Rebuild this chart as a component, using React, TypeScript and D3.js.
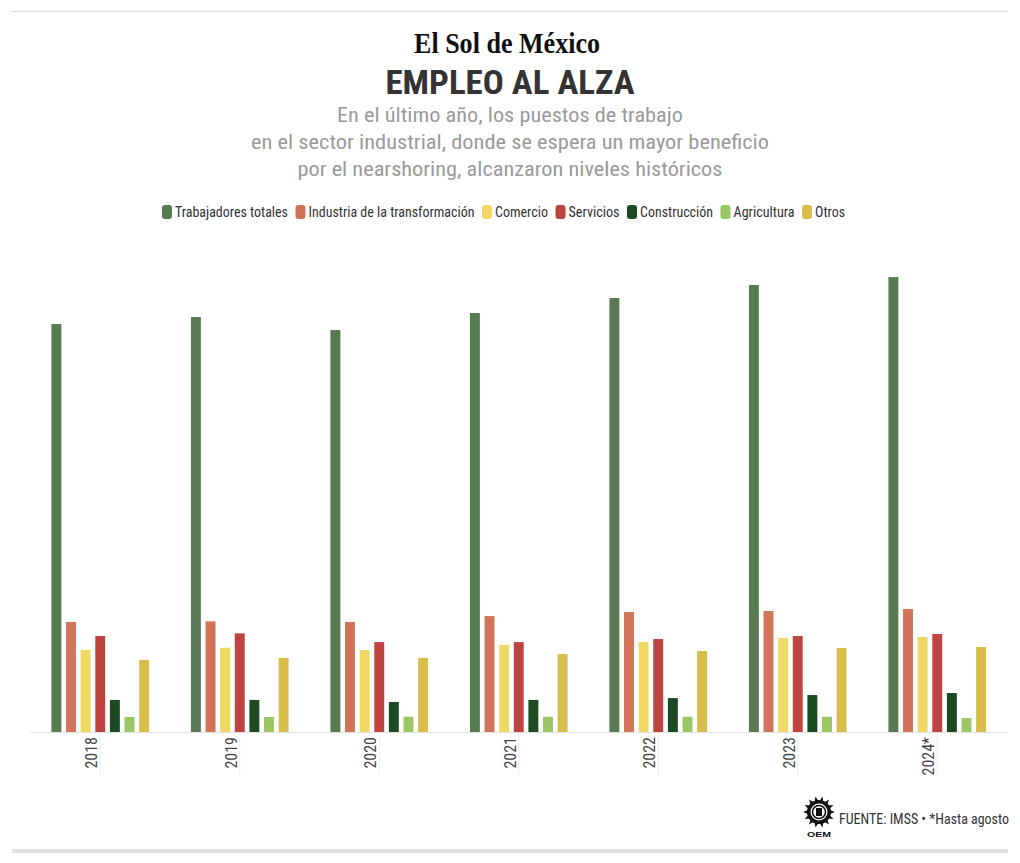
import React from "react";
import * as d3 from "d3";

const years = ["2018", "2019", "2020", "2021", "2022", "2023", "2024*"];
const seriesNames = [
  "Trabajadores totales",
  "Industria de la transformación",
  "Comercio",
  "Servicios",
  "Construcción",
  "Agricultura",
  "Otros",
];
const seriesColors = ["#587a53", "#d27459", "#f1d864", "#be4441", "#1c4a23", "#9cc564", "#d9bd4a"];

// millions of workers (approx.)
const totales = [20.1, 20.44, 19.8, 20.64, 21.38, 22.02, 22.41];
const industria = [5.42, 5.45, 5.42, 5.71, 5.91, 5.96, 6.06];
const comercio = [4.04, 4.15, 4.04, 4.29, 4.43, 4.63, 4.68];
const servicios = [4.73, 4.86, 4.43, 4.43, 4.58, 4.73, 4.83];
const construccion = [1.58, 1.58, 1.48, 1.58, 1.67, 1.82, 1.92];
const agricultura = [0.74, 0.74, 0.75, 0.75, 0.75, 0.75, 0.69];
const otros = [3.55, 3.65, 3.65, 3.84, 3.99, 4.14, 4.19];

const seriesValues = [totales, industria, comercio, servicios, construccion, agricultura, otros];

const subtitleLines = [
  "En el último año, los puestos de trabajo",
  "en el sector industrial, donde se espera un mayor beneficio",
  "por el nearshoring, alcanzaron niveles históricos",
];
const subtitleWidths = [346, 518, 425];
const legendWidths = [113, 166, 53, 51, 73, 61, 30];

const W = 1020;
const H = 863;
const baseY = 732;
const FONT = "'Roboto Condensed', Roboto, sans-serif";

function OemLogo({ x, y }: { x: number; y: number }) {
  const spikes = d3.range(14).map((i) => {
    const a = (i / 14) * Math.PI * 2;
    const a1 = a - 0.18;
    const a2 = a + 0.18;
    const r1 = 11;
    const r2 = 16;
    return `M${x + r1 * Math.cos(a1)},${y + r1 * Math.sin(a1)}L${x + r2 * Math.cos(a)},${y + r2 * Math.sin(a)}L${x + r1 * Math.cos(a2)},${y + r1 * Math.sin(a2)}Z`;
  });
  return (
    <g>
      {spikes.map((d, i) => (
        <path key={i} d={d} fill="#111" />
      ))}
      <circle cx={x} cy={y} r={12} fill="#111" />
      <circle cx={x} cy={y} r={8.5} fill="#fff" />
      <circle cx={x} cy={y} r={6.5} fill="none" stroke="#111" strokeWidth={1.5} />
      <rect x={x - 3} y={y - 4} width={6} height={8} fill="#111" />
      <text x={x} y={y + 25} textAnchor="middle" fontFamily="Arial, sans-serif" fontWeight="bold" fontSize={8} fill="#111" textLength={24} lengthAdjust="spacingAndGlyphs">
        OEM
      </text>
    </g>
  );
}

export default function App() {
  const x0 = d3.scaleBand<string>().domain(years).range([30.5, 1007]).paddingInner(0.3).paddingOuter(0.15);
  const x1 = d3
    .scaleBand<string>()
    .domain(seriesNames)
    .range([0, x0.bandwidth()])
    .paddingInner(0.32)
    .paddingOuter(0);
  const y = d3.scaleLinear().domain([0, 22.5]).range([baseY, baseY - 22.5 * 20.3]);

  // legend layout
  let lx = 162;
  const legendItems = seriesNames.map((name, i) => {
    const item = { name, color: seriesColors[i], x: lx, w: legendWidths[i] };
    lx += 13 + legendWidths[i] + 7.5;
    return item;
  });

  return (
    <div style={{ position: "absolute", left: 0, top: 0, width: W, height: H, background: "#fff" }}>
      <svg width={W} height={H} style={{ display: "block" }}>
        <rect x={0} y={0} width={W} height={H} fill="#fff" />
        <line x1={12} x2={1008} y1={11.5} y2={11.5} stroke="#dcdcdc" strokeWidth={1} />

        <text x={507} y={53} textAnchor="middle" fontFamily="'Liberation Serif', serif" fontWeight="bold" fontSize={30} fill="#111" textLength={186} lengthAdjust="spacingAndGlyphs">
          El Sol de México
        </text>

        <text x={510} y={94} textAnchor="middle" fontFamily={FONT} fontWeight="bold" fontSize={34} fill="#333" textLength={249} lengthAdjust="spacingAndGlyphs">
          EMPLEO AL ALZA
        </text>

        {subtitleLines.map((t, i) => (
          <text key={i} x={510} y={122 + i * 27} textAnchor="middle" fontFamily={FONT} fontSize={20} fill="#9a9a9a" textLength={subtitleWidths[i]} lengthAdjust="spacingAndGlyphs">
            {t}
          </text>
        ))}

        {legendItems.map((it) => (
          <g key={it.name}>
            <rect x={it.x} y={205} width={10} height={14} rx={3} fill={it.color} />
            <text x={it.x + 13} y={217} fontFamily={FONT} fontSize={14} fill="#333" textLength={it.w} lengthAdjust="spacingAndGlyphs">
              {it.name}
            </text>
          </g>
        ))}

        {/* tick lines */}
        {years.map((yr) => {
          const cx = (x0(yr) as number) + x0.bandwidth() / 2;
          return <line key={yr} x1={cx} x2={cx} y1={baseY} y2={775} stroke="#ececec" strokeWidth={1} />;
        })}

        {/* bars */}
        {years.map((yr, yi) => (
          <g key={yr} transform={`translate(${x0(yr)},0)`}>
            {seriesNames.map((s, si) => {
              const v = seriesValues[si][yi];
              return (
                <rect
                  key={s}
                  x={x1(s) as number}
                  y={y(v)}
                  width={x1.bandwidth()}
                  height={baseY - y(v)}
                  fill={seriesColors[si]}
                />
              );
            })}
          </g>
        ))}

        <line x1={30.5} x2={1007} y1={baseY + 0.5} y2={baseY + 0.5} stroke="#e3e3e3" strokeWidth={1} />

        {years.map((yr) => {
          const cx = (x0(yr) as number) + x0.bandwidth() / 2;
          return (
            <text key={yr} transform={`translate(${cx - 3},737) rotate(-90)`} textAnchor="end" fontFamily={FONT} fontSize={16} fill="#444">
              {yr}
            </text>
          );
        })}

        <OemLogo x={819} y={812} />
        <text x={1009} y={824} textAnchor="end" fontFamily={FONT} fontSize={14} fill="#333" textLength={170} lengthAdjust="spacingAndGlyphs">
          FUENTE: IMSS • *Hasta agosto
        </text>

        <rect x={12} y={849} width={996} height={4} fill="#e0e0e0" />
      </svg>
    </div>
  );
}
